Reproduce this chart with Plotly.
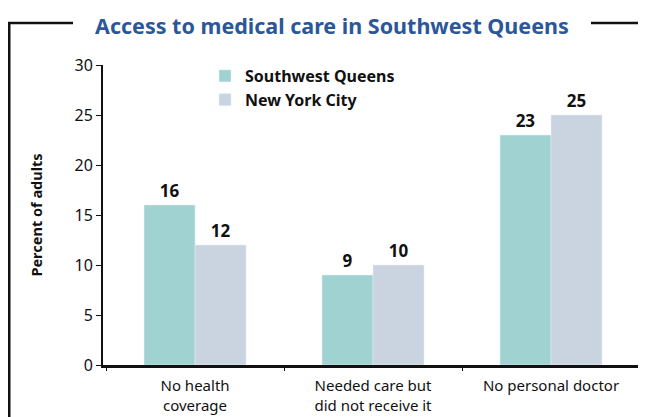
import plotly.graph_objs as go

CATEGORIES = ["No health<br>coverage", "Needed care but<br>did not receive it", "No personal doctor"]
SW_QUEENS = [16, 9, 23]
NYC = [12, 10, 25]
Y_TICKS = [0, 5, 10, 15, 20, 25, 30]

FONT = "Noto Sans"

# the page puts the figure 8px in from the window edge,
# so work in window pixels and shift by OFF
OFF = 8
W, H = 646 - OFF, 417 - OFF
# plot area in window pixels: x 103..640, y 65..365
L, R, T, B = 103 - OFF, 646 - 640, 65 - OFF, 417 - 365
PW, PH = W - L - R, H - T - B


def px(x):
    return (x - OFF - L) / PW


def py(y):
    return (H - B - (y - OFF)) / PH


fig = go.Figure()

fig.add_trace(go.Bar(
    x=CATEGORIES,
    y=SW_QUEENS,
    name="Southwest Queens",
    marker=dict(color="#A1D2D2"),
    text=SW_QUEENS,
    textposition="outside",
    textfont=dict(family=FONT, size=17, color="#111111", weight="bold"),
    cliponaxis=False,
))

fig.add_trace(go.Bar(
    x=CATEGORIES,
    y=NYC,
    name="New York City",
    marker=dict(color="#CAD4E0"),
    text=NYC,
    textposition="outside",
    textfont=dict(family=FONT, size=17, color="#111111", weight="bold"),
    cliponaxis=False,
))

# frame around the chart, broken by the title
frame = dict(color="#111111", width=2.5)
fig.add_shape(type="line", xref="paper", yref="paper",
              x0=px(9.25), x1=px(9.25), y0=py(23), y1=py(430), line=frame)
fig.add_shape(type="line", xref="paper", yref="paper",
              x0=px(8), x1=px(73), y0=py(23), y1=py(23), line=frame)
fig.add_shape(type="line", xref="paper", yref="paper",
              x0=px(591), x1=px(650), y0=py(23), y1=py(23), line=frame)

fig.add_annotation(
    text="Access to medical care in Southwest Queens",
    xref="paper", yref="paper", x=px(331.5), y=py(8.5),
    xanchor="center", yanchor="top",
    showarrow=False,
    font=dict(family=FONT, size=21.5, color="#2B579A", weight="bold"),
)

fig.update_layout(
    width=W,
    height=H,
    margin=dict(l=L, r=R, t=T, b=B, autoexpand=False),
    paper_bgcolor="white",
    plot_bgcolor="white",
    barmode="group",
    bargap=0.427,
    bargroupgap=0,
    font=dict(family=FONT, color="#111111"),
    legend=dict(
        x=px(205), y=py(59), xanchor="left", yanchor="top",
        font=dict(family=FONT, size=16, color="#111111", weight="bold"),
        bgcolor="rgba(0,0,0,0)",
        tracegroupgap=0,
    ),
    xaxis=dict(
        range=[-0.517, 2.5],
        automargin=False,
        showline=True, linecolor="#111111", linewidth=3,
        ticks="outside", tickson="boundaries", ticklen=3, tickcolor="#111111",
        tickfont=dict(family=FONT, size=15, color="#111111"),
        ticklabelstandoff=5,
        showgrid=False,
    ),
    yaxis=dict(
        range=[0, 30],
        automargin=False,
        tickvals=Y_TICKS,
        showline=True, linecolor="#111111", linewidth=2,
        ticks="outside", ticklen=5, tickcolor="#111111",
        tickfont=dict(family=FONT, size=16, color="#111111"),
        showgrid=False,
        zeroline=False,
        title=dict(text="Percent of adults", standoff=28,
                   font=dict(family=FONT, size=14.5, color="#111111", weight="bold")),
    ),
)

fig.write_html("out.html")
